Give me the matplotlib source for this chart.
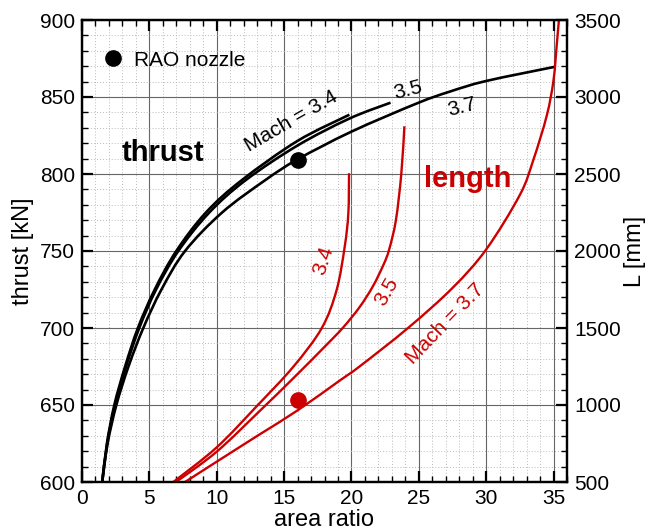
import matplotlib
matplotlib.use("Agg")
import matplotlib.pyplot as plt
from matplotlib.ticker import MultipleLocator
from matplotlib.path import Path
from matplotlib.patches import PathPatch

plt.rcParams['font.family'] = ['Liberation Sans', 'DejaVu Sans']

# ---- data ----
# thrust [kN] vs area ratio
ar_t34 = [1.5, 1.85, 2.4, 3.2, 4.15, 5.4, 7.0, 9.2, 11.86, 16.0, 19.85]
th_t34 = [600, 625, 650, 675, 700, 725, 750, 775, 796, 821.5, 838.5]
ar_t35 = [1.5, 1.87, 2.45, 3.27, 4.25, 5.5, 7.15, 9.45, 12.15, 16.0, 19.85, 22.9]
th_t35 = [600, 625, 650, 675, 700, 725, 750, 775, 796, 818.5, 836, 846.3]
ar_t37 = [1.5, 1.9, 2.55, 3.45, 4.55, 5.9, 7.65, 10.4, 13.6, 16.0, 20.0, 24.9, 27.3, 30.0, 35.15]
th_t37 = [600, 625, 650, 675, 700, 725, 750, 775, 796, 809.5, 827.5, 846, 853.5, 860.4, 869.7]

# nozzle length L [mm] vs area ratio
ar_l34 = [6.78, 10.0, 13.0, 15.7, 17.8, 18.9, 19.5, 19.77, 19.82]
L_l34 = [500, 725, 995, 1250, 1500, 1747, 2028, 2245, 2505]
ar_l35 = [6.98, 10.0, 13.2, 15.7, 18.2, 19.4, 20.6, 21.6, 22.4, 22.8, 23.3, 23.7, 23.93]
L_l35 = [500, 697, 962, 1175, 1395, 1505, 1635, 1772, 1915, 2010, 2200, 2500, 2810]
ar_l37 = [7.65, 10.0, 13.2, 16.0, 19.15, 20.6, 24.2, 27.5, 30.0, 32.5, 33.5, 34.5, 35.0, 35.25, 35.4]
L_l37 = [500, 632, 810, 965, 1160, 1250, 1500, 1760, 2010, 2364, 2591, 2880, 3110, 3350, 3500]

# RAO nozzle design point
rao_ar = [16.0]
rao_thrust = [809]
rao_L = [1032]

black = 'black'
red = '#cc0000'


def smooth_line(axis, xs, ys, color, lw):
    """Draw a smooth curve through the given points (Catmull-Rom as Bezier path)."""
    n = len(xs)
    pts = list(zip(xs, ys))
    verts = [pts[0]]
    codes = [Path.MOVETO]
    for i in range(n - 1):
        p0 = pts[i - 1] if i > 0 else pts[i]
        p1 = pts[i]
        p2 = pts[i + 1]
        p3 = pts[i + 2] if i + 2 < n else pts[i + 1]
        c1 = (p1[0] + (p2[0] - p0[0]) / 6.0, p1[1] + (p2[1] - p0[1]) / 6.0)
        c2 = (p2[0] - (p3[0] - p1[0]) / 6.0, p2[1] - (p3[1] - p1[1]) / 6.0)
        verts += [c1, c2, p2]
        codes += [Path.CURVE4, Path.CURVE4, Path.CURVE4]
    patch = PathPatch(Path(verts, codes), facecolor='none', edgecolor=color,
                      lw=lw, capstyle='butt', joinstyle='round')
    axis.add_patch(patch)


fig = plt.figure(figsize=(6.46, 5.32), dpi=100)
ax = fig.add_axes([82/646, 50/532, 485/646, 462/532])
ax2 = ax.twinx()

ax.set_xlim(0, 36)
ax.set_ylim(600, 900)
ax2.set_ylim(500, 3500)

ax.xaxis.set_major_locator(MultipleLocator(5))
ax.xaxis.set_minor_locator(MultipleLocator(1))
ax.yaxis.set_major_locator(MultipleLocator(50))
ax.yaxis.set_minor_locator(MultipleLocator(10))
ax2.yaxis.set_major_locator(MultipleLocator(500))
ax2.yaxis.set_minor_locator(MultipleLocator(100))

ax.grid(which='major', color='#666666', linewidth=0.8, linestyle='-')
ax.grid(which='minor', color='#bbbbbb', linewidth=0.7, linestyle=(0, (1, 2)))
ax.set_axisbelow(True)

for a in (ax, ax2):
    for s in a.spines.values():
        s.set_linewidth(1.6)

ax.tick_params(which='both', direction='in', top=True, right=False, labelsize=15, pad=5)
ax.tick_params(which='major', length=8, width=1.6)
ax.tick_params(which='minor', length=4, width=1.0)
ax2.tick_params(which='both', direction='in', labelsize=15, pad=5)
ax2.tick_params(which='major', length=8, width=1.6)
ax2.tick_params(which='minor', length=4, width=1.0)

ax.set_xlabel('area ratio', fontsize=17, labelpad=1)
ax.set_ylabel('thrust [kN]', fontsize=17, labelpad=4)
ax2.set_ylabel('L [mm]', fontsize=17, labelpad=2)

# thrust curves
lw = 1.9
smooth_line(ax, ar_t34, th_t34, black, lw)
smooth_line(ax, ar_t35, th_t35, black, lw)
smooth_line(ax, ar_t37, th_t37, black, lw)
ax.plot(rao_ar, rao_thrust, 'o', color=black, ms=11, label='RAO nozzle')

# length curves
smooth_line(ax2, ar_l34, L_l34, red, 1.7)
smooth_line(ax2, ar_l35, L_l35, red, 1.7)
smooth_line(ax2, ar_l37, L_l37, red, 1.7)
ax2.plot(rao_ar, rao_L, 'o', color=red, ms=11)

# labels on curves
ax.text(15.5, 834, 'Mach = 3.4', fontsize=15, rotation=30, ha='center', va='center')
ax.text(24.2, 854.5, '3.5', fontsize=15, rotation=14, ha='center', va='center')
ax.text(28.2, 843.5, '3.7', fontsize=15, rotation=14, ha='center', va='center')
ax.text(6.0, 813.5, 'thrust', fontsize=21, fontweight='bold', ha='center', va='center')
ax2.text(28.6, 2470, 'length', fontsize=21, fontweight='bold', color=red, ha='center', va='center')
ax2.text(17.9, 1940, '3.4', fontsize=15, rotation=72, color=red, ha='center', va='center')
ax2.text(22.6, 1736, '3.5', fontsize=15, rotation=60, color=red, ha='center', va='center')
ax2.text(26.95, 1526, 'Mach = 3.7', fontsize=15, rotation=46, color=red, ha='center', va='center')

ax.legend(loc='center left', bbox_to_anchor=(0.043, 0.913), frameon=False,
          fontsize=15, handlelength=1.0, handletextpad=0.5, borderaxespad=0,
          borderpad=0)

fig.savefig('out.png', dpi=100)
